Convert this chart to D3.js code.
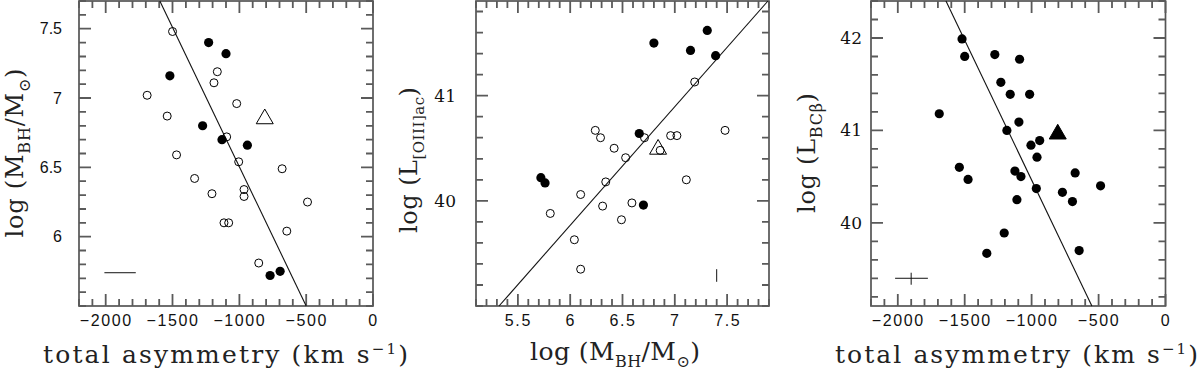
<!DOCTYPE html>
<html>
<head>
<meta charset="utf-8">
<script src="https://cdn.jsdelivr.net/npm/d3@7"></script>
<style>
  body { margin: 0; background: #fff; }
  svg { display: block; }
  .sans { font-family: "Liberation Sans", Arial, sans-serif; }
  .serif { font-family: "DejaVu Serif", serif; }
</style>
</head>
<body>
<script>
/* panel 1: asymmetry vs black hole mass */
var p1OpenX = [-1500, -1165, -1190, -1690, -1020, -1540, -1095, -1470, -1005, -680, -1335, -1205, -965, -965, -490, -1115, -1080, -645, -855];
var p1OpenY = [7.48, 7.19, 7.11, 7.02, 6.96, 6.87, 6.72, 6.59, 6.54, 6.49, 6.42, 6.31, 6.34, 6.29, 6.25, 6.10, 6.10, 6.04, 5.81];
var p1FillX = [-1230, -1100, -1520, -1275, -1130, -940, -770, -695];
var p1FillY = [7.40, 7.32, 7.16, 6.80, 6.70, 6.66, 5.72, 5.75];
var p1TriX = [-810];
var p1TriY = [6.85];
var p1FitX = [-1595, -500];
var p1FitY = [7.7, 5.5];
var p1ErrX = [-2010, -1775];
var p1ErrY = [5.74];
var p1XTicks = [-2000, -1500, -1000, -500, 0];
var p1YTicks = [6, 6.5, 7, 7.5];

/* panel 2: black hole mass vs [OIII] luminosity */
var p2OpenX = [7.19, 6.24, 6.29, 6.42, 6.53, 6.71, 6.96, 7.02, 7.48, 6.86, 6.34, 7.11, 6.10, 5.81, 6.31, 6.59, 6.49, 6.04, 6.10];
var p2OpenY = [41.13, 40.67, 40.60, 40.50, 40.41, 40.60, 40.62, 40.62, 40.67, 40.48, 40.18, 40.20, 40.06, 39.88, 39.95, 39.98, 39.82, 39.63, 39.35];
var p2FillX = [5.72, 5.76, 6.80, 7.31, 7.15, 7.39, 6.66, 6.70];
var p2FillY = [40.22, 40.17, 41.50, 41.62, 41.43, 41.38, 40.64, 39.96];
var p2TriX = [6.84];
var p2TriY = [40.49];
var p2FitX = [5.32, 7.89];
var p2FitY = [39.0, 41.9];
var p2ErrX = [7.4];
var p2ErrY = [39.23, 39.35];
var p2XTicks = [5.5, 6, 6.5, 7, 7.5];
var p2YTicks = [40, 41];

/* panel 3: asymmetry vs broad Hbeta luminosity */
var p3FillX = [-1520, -1500, -1275, -1090, -1230, -1160, -1015, -1690, -1095, -1185, -1005, -940, -960, -1540, -1475, -1125, -1080, -675, -485, -965, -770, -695, -1110, -1205, -1335, -645];
var p3FillY = [41.99, 41.80, 41.82, 41.77, 41.52, 41.39, 41.39, 41.18, 41.09, 41.00, 40.84, 40.89, 40.71, 40.60, 40.47, 40.56, 40.50, 40.54, 40.40, 40.37, 40.33, 40.23, 40.25, 39.89, 39.67, 39.70];
var p3TriX = [-805];
var p3TriY = [40.96];
var p3FitX = [-1640, -550];
var p3FitY = [42.4, 39.1];
var p3ErrX = [-2020, -1775];
var p3ErrY = [39.33, 39.46];
var p3ErrCenter = [-1900, 39.4];
var p3XTicks = [-2000, -1500, -1000, -500, 0];
var p3YTicks = [40, 41, 42];

var svg = d3.select("body").append("svg")
    .attr("width", 1200)
    .attr("height", 371);

var fmt = d3.format("");
var TOP = 1, BOT = 306;

function minorTicks(domain, step) {
    var out = [];
    var start = Math.ceil(domain[0] / step - 1e-9);
    var end = Math.floor(domain[1] / step + 1e-9);
    for (var i = start; i <= end; i++) out.push(+(i * step).toFixed(4));
    return out;
}

function isMajor(v, majors) {
    return majors.some(function (m) { return Math.abs(m - v) < 1e-6; });
}

function drawPanel(cfg) {
    var x = d3.scaleLinear().domain(cfg.xDom).range(cfg.xRange);
    var y = d3.scaleLinear().domain(cfg.yDom).range([BOT, TOP]);
    var g = svg.append("g");
    var x0 = cfg.xRange[0], x1 = cfg.xRange[1];

    /* frame */
    g.append("rect")
        .attr("x", x0).attr("y", TOP)
        .attr("width", x1 - x0).attr("height", BOT - TOP)
        .style("fill", "none").style("stroke", "#555").style("stroke-width", "1.7px");

    /* inward ticks on all four sides, drawn as one path */
    var xt = minorTicks(cfg.xDom, cfg.xMinor);
    var yt = minorTicks(cfg.yDom, cfg.yMinor);
    var d = "";
    xt.forEach(function (v) {
        var len = isMajor(v, cfg.xTicks) ? 12 : 7;
        var px = x(v).toFixed(1);
        d += "M" + px + "," + BOT + "v" + (-len);
        d += "M" + px + "," + TOP + "v" + len;
    });
    yt.forEach(function (v) {
        var len = isMajor(v, cfg.yTicks) ? 12 : 7;
        var py = y(v).toFixed(1);
        d += "M" + x0 + "," + py + "h" + len;
        d += "M" + x1 + "," + py + "h" + (-len);
    });
    g.append("path").attr("d", d)
        .attr("fill", "none").attr("stroke", "#5a5a5a").attr("stroke-width", 1.8);

    /* tick labels through d3 axes */
    var xb = g.append("g").attr("transform", "translate(0," + BOT + ")")
        .call(d3.axisBottom(x).tickValues(cfg.xTicks).tickSize(0).tickPadding(9).tickFormat(fmt));
    xb.selectAll("text").attr("class", "sans").style("font-size", "16px")
        .style("letter-spacing", "1.6px").attr("fill", "#111");

    var yl = g.append("g").attr("transform", "translate(" + x0 + ",0)")
        .call(d3.axisLeft(y).tickValues(cfg.yTicks).tickSize(0).tickPadding(cfg.yPad).tickFormat(fmt));
    yl.selectAll("text").attr("class", cfg.yFont)
        .style("font-size", cfg.yFont === "serif" ? "17px" : "16px")
        .attr("fill", "#111");
    xb.select(".domain").remove();
    yl.select(".domain").remove();

    /* fit line */
    g.append("line")
        .attr("x1", x(cfg.fitX[0])).attr("y1", y(cfg.fitY[0]))
        .attr("x2", x(cfg.fitX[1])).attr("y2", y(cfg.fitY[1]))
        .attr("stroke", "#111").attr("stroke-width", 1.1);

    /* open circles */
    if (cfg.openX) {
        g.selectAll(".open").data(d3.range(cfg.openX.length)).enter()
            .append("circle")
            .attr("cx", function (i) { return x(cfg.openX[i]); })
            .attr("cy", function (i) { return y(cfg.openY[i]); })
            .attr("r", 4)
            .attr("fill", "none").attr("stroke", "#000").attr("stroke-width", 1);
    }

    /* filled circles */
    g.selectAll(".fill").data(d3.range(cfg.fillX.length)).enter()
        .append("circle")
        .attr("cx", function (i) { return x(cfg.fillX[i]); })
        .attr("cy", function (i) { return y(cfg.fillY[i]); })
        .attr("r", 4.6)
        .attr("fill", "#000");

    /* triangle */
    g.append("path")
        .attr("d", d3.symbol(d3.symbolTriangle, 125)())
        .attr("transform", "translate(" + x(cfg.triX[0]) + "," + y(cfg.triY[0]) + ")")
        .attr("fill", cfg.triFilled ? "#000" : "none")
        .attr("stroke", "#000").attr("stroke-width", 1);

    return { g: g, x: x, y: y };
}

function xTitle(cx, cy, len, build) {
    var t = svg.append("text").attr("class", "serif")
        .attr("x", cx).attr("y", cy)
        .attr("text-anchor", "middle")
        .attr("textLength", len).attr("lengthAdjust", "spacing")
        .style("font-size", "25px").attr("fill", "#222");
    build(t);
}

function yTitle(bx, cy, len, build) {
    var t = svg.append("text").attr("class", "serif")
        .attr("transform", "translate(" + bx + "," + cy + ") rotate(-90)")
        .attr("text-anchor", "middle")
        .attr("textLength", len).attr("lengthAdjust", "spacing")
        .style("font-size", "24px").attr("fill", "#222");
    build(t);
}

function asymTitle(t) {
    t.append("tspan").text("total asymmetry (km s");
    t.append("tspan").attr("dy", -9).style("font-size", "15px").text("\u22121");
    t.append("tspan").attr("dy", 9).text(")");
}

function massTitle(t) {
    t.append("tspan").text("log (M");
    t.append("tspan").attr("dy", 7).style("font-size", "16px").text("BH");
    t.append("tspan").attr("dy", -7).text("/M");
    t.append("tspan").attr("dy", 7).style("font-size", "16px").text("\u2299");
    t.append("tspan").attr("dy", -7).text(")");
}

/* panel 1 */
var pan1 = drawPanel({
    xDom: [-2200, 0], xRange: [79, 373], yDom: [5.5, 7.7],
    xTicks: p1XTicks, yTicks: p1YTicks, xMinor: 100, yMinor: 0.1,
    yFont: "sans", yPad: 17,
    openX: p1OpenX, openY: p1OpenY, fillX: p1FillX, fillY: p1FillY,
    triX: p1TriX, triY: p1TriY, triFilled: false,
    fitX: p1FitX, fitY: p1FitY
});
pan1.g.append("line")
    .attr("x1", pan1.x(p1ErrX[0])).attr("x2", pan1.x(p1ErrX[1]))
    .attr("y1", pan1.y(p1ErrY[0])).attr("y2", pan1.y(p1ErrY[0]))
    .attr("stroke", "#111");
xTitle(225.5, 363, 365, asymTitle);
yTitle(23, 153, 169, massTitle);

/* panel 2 */
var pan2 = drawPanel({
    xDom: [5.1, 7.9], xRange: [476, 769], yDom: [39.0, 41.9],
    xTicks: p2XTicks, yTicks: p2YTicks, xMinor: 0.1, yMinor: 0.2,
    yFont: "serif", yPad: 20,
    openX: p2OpenX, openY: p2OpenY, fillX: p2FillX, fillY: p2FillY,
    triX: p2TriX, triY: p2TriY, triFilled: false,
    fitX: p2FitX, fitY: p2FitY
});
pan2.g.append("line")
    .attr("x1", pan2.x(p2ErrX[0])).attr("x2", pan2.x(p2ErrX[0]))
    .attr("y1", pan2.y(p2ErrY[0])).attr("y2", pan2.y(p2ErrY[1]))
    .attr("stroke", "#111");
xTitle(615, 360, 170, massTitle);
yTitle(417, 160, 146, function (t) {
    t.append("tspan").text("log (L");
    t.append("tspan").attr("dy", 7).style("font-size", "15px").text("[OIII]ac");
    t.append("tspan").attr("dy", -7).text(")");
});

/* panel 3 */
var pan3 = drawPanel({
    xDom: [-2200, 0], xRange: [871, 1165.5], yDom: [39.1, 42.4],
    xTicks: p3XTicks, yTicks: p3YTicks, xMinor: 100, yMinor: 0.2,
    yFont: "serif", yPad: 9,
    fillX: p3FillX, fillY: p3FillY,
    triX: p3TriX, triY: p3TriY, triFilled: true,
    fitX: p3FitX, fitY: p3FitY
});
pan3.g.append("line")
    .attr("x1", pan3.x(p3ErrX[0])).attr("x2", pan3.x(p3ErrX[1]))
    .attr("y1", pan3.y(p3ErrCenter[1])).attr("y2", pan3.y(p3ErrCenter[1]))
    .attr("stroke", "#111");
pan3.g.append("line")
    .attr("x1", pan3.x(p3ErrCenter[0])).attr("x2", pan3.x(p3ErrCenter[0]))
    .attr("y1", pan3.y(p3ErrY[0])).attr("y2", pan3.y(p3ErrY[1]))
    .attr("stroke", "#111");
xTitle(1016.5, 363, 363, asymTitle);
yTitle(815, 153, 120, function (t) {
    t.append("tspan").text("log (L");
    t.append("tspan").attr("dy", 7).style("font-size", "16px").text("BC\u03b2");
    t.append("tspan").attr("dy", -7).text(")");
});
</script>
</body>
</html>
